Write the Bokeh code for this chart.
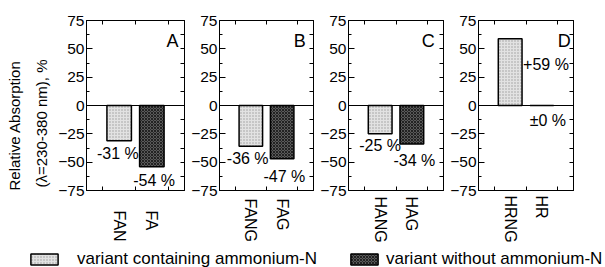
from bokeh.plotting import figure
from bokeh.layouts import row, column
from bokeh.models import (Range1d, FixedTicker, LinearAxis, Label, Span, Title,
                          Legend, LegendItem)
from bokeh.embed import file_html
from bokeh.resources import INLINE

# ---------------- data ----------------
panel_letters = ["A", "B", "C", "D"]
cats_with = ["FAN", "FANG", "HANG", "HRNG"]      # variant containing ammonium-N
cats_without = ["FA", "FAG", "HAG", "HR"]         # variant without ammonium-N
vals_with = [-31, -36, -25, 59]
vals_without = [-54, -47, -34, 0]
y_ticks = [-75, -50, -25, 0, 25, 50, 75]
y_minor = [-62.5, -37.5, -12.5, 12.5, 37.5, 62.5]
x_edge_ticks = [0.5, 1.5, 2.5]
legend_labels = ["variant containing ammonium-N", "variant without ammonium-N"]
y_title = ["Relative Absorption", "(\u03bb=230-380 nm), %"]

# ---------------- layout (not data) ----------------
FONT = "Liberation Sans"
left_borders = [86, 27, 28, 29]
frame_widths = [98, 98, 98, 97]
cat_standoff = [20, 8, 6, 5]
pad_with = [0, 0, 0, 0]          # trailing no-break spaces so labels start at same line
pad_without = [3, 3, 3, 5]
off_with = [(-0.04, -3.5), (-0.10, -2.9), (0.00, -2.4), (1.13, -14.9)]
off_without = [(0.07, -4.3), (0.07, -7.8), (0.08, -6.6), (0.19, -5.4)]
letter_x = [2.82, 2.75, 2.72, 2.91]
legend_x = [27, 347]
legend_standoff = [16, 5]

light = dict(fill_color="#e2e2e2", hatch_pattern="dot", hatch_color="#9a9a9a",
             hatch_scale=3, hatch_weight=1, line_color="black", line_width=1.5)
dark = dict(fill_color="#5a5a5a", hatch_pattern="diagonal_cross", hatch_color="#222222",
            hatch_scale=3, hatch_weight=1, line_color="black", line_width=1.5)


def fmt(v):
    if v > 0:
        return f"+{v} %"
    if v < 0:
        return f"-{abs(v)} %"
    return "\u00b10 %"


def make_panel(i):
    lb = left_borders[i]
    fw = frame_widths[i]
    p = figure(width=lb + fw + 4, height=248,
               x_range=Range1d(0, 3), y_range=Range1d(-75, 75),
               output_backend="svg", toolbar_location=None,
               min_border_left=lb, min_border_right=4,
               min_border_top=20, min_border_bottom=58,
               x_axis_location=None, y_axis_location=None)
    p.xgrid.grid_line_color = None
    p.ygrid.grid_line_color = None
    p.outline_line_color = "black"
    p.outline_line_width = 1
    p.background_fill_color = "white"
    p.border_fill_color = "white"

    # left axis with labels
    la = LinearAxis(ticker=FixedTicker(ticks=y_ticks, minor_ticks=y_minor))
    la.major_tick_in = 6
    la.major_tick_out = 0
    la.minor_tick_in = 3
    la.minor_tick_out = 0
    la.major_label_standoff = 2
    la.major_label_text_font = FONT
    la.major_label_text_font_size = "15.5px"
    la.major_label_text_color = "black"
    la.axis_line_color = "black"
    p.add_layout(la, "left")

    if i == 0:
        p.add_layout(Title(text=y_title[1], align="left", offset=3, standoff=11,
                           text_font=FONT, text_font_size="15px",
                           text_font_style="normal", text_color="black"), "left")
        p.add_layout(Title(text=y_title[0], align="left", offset=0, standoff=5,
                           text_font=FONT, text_font_size="15px",
                           text_font_style="normal", text_color="black"), "left")

    ra = LinearAxis(ticker=FixedTicker(ticks=[], minor_ticks=y_ticks + y_minor))
    ra.minor_tick_in = 4
    ra.minor_tick_out = 0
    ra.major_tick_in = 0
    ra.major_tick_out = 0
    ra.major_label_standoff = 0
    p.add_layout(ra, "right")

    # bottom axis: category names as tick labels, edge ticks as minor ticks
    ba = LinearAxis(ticker=FixedTicker(ticks=[1, 2], minor_ticks=x_edge_ticks))
    ba.major_tick_in = 0
    ba.major_tick_out = 0
    ba.minor_tick_in = 4
    ba.minor_tick_out = 0
    ba.major_label_orientation = "vertical"
    ba.major_label_standoff = cat_standoff[i]
    ba.major_label_overrides = {
        1: cats_with[i] + "\u00a0" * pad_with[i],
        2: cats_without[i] + "\u00a0" * pad_without[i],
    }
    ba.major_label_text_font = FONT
    ba.major_label_text_font_size = "16px"
    ba.major_label_text_color = "black"
    p.add_layout(ba, "below")

    ta = LinearAxis(ticker=FixedTicker(ticks=[], minor_ticks=x_edge_ticks))
    ta.minor_tick_in = 4
    ta.minor_tick_out = 0
    ta.major_tick_in = 0
    ta.major_tick_out = 0
    ta.major_label_standoff = 0
    p.add_layout(ta, "above")

    p.add_layout(Span(location=0, dimension="width", line_color="black", line_width=1))

    p.vbar(x=[1], top=[vals_with[i]], bottom=0, width=0.75, **light)
    p.vbar(x=[2], top=[vals_without[i]], bottom=0, width=0.75, **dark)

    # value labels
    for x, v, (dx, dy) in ((1, vals_with[i], off_with[i]), (2, vals_without[i], off_without[i])):
        p.add_layout(Label(x=x + dx, y=v + dy, text=fmt(v), text_align="center",
                           text_baseline="top", text_font=FONT, text_font_size="16px",
                           text_color="black"))

    # panel letter
    p.add_layout(Label(x=letter_x[i], y=66, text=panel_letters[i], text_align="right",
                       text_baseline="top", text_font=FONT, text_font_size="18px",
                       text_color="black"))
    return p


panels = [make_panel(i) for i in range(4)]

# legend strip
leg = figure(width=605, height=19, x_range=Range1d(0, 1), y_range=Range1d(0, 1),
             output_backend="svg", toolbar_location=None, min_border=0,
             x_axis_location=None, y_axis_location=None)
leg.xgrid.grid_line_color = None
leg.ygrid.grid_line_color = None
leg.outline_line_color = None
# helper renderers with no drawable position, used only for the legend swatches
nan = float("nan")
helpers = [leg.vbar(x=[nan], top=[nan], width=0.75, **light),
           leg.vbar(x=[nan], top=[nan], width=0.75, **dark)]
for k in range(2):
    lg = Legend(items=[LegendItem(label=legend_labels[k], renderers=[helpers[k]])],
                orientation="horizontal", location=(legend_x[k], -2),
                glyph_width=34, glyph_height=14, label_standoff=legend_standoff[k],
                padding=0, margin=0, border_line_color=None, background_fill_alpha=0,
                label_text_font=FONT, label_text_font_size="17px",
                label_text_color="black")
    leg.add_layout(lg, "center")

layout = column(row(*panels), leg)
open("out.html", "w").write(file_html(layout, INLINE))
